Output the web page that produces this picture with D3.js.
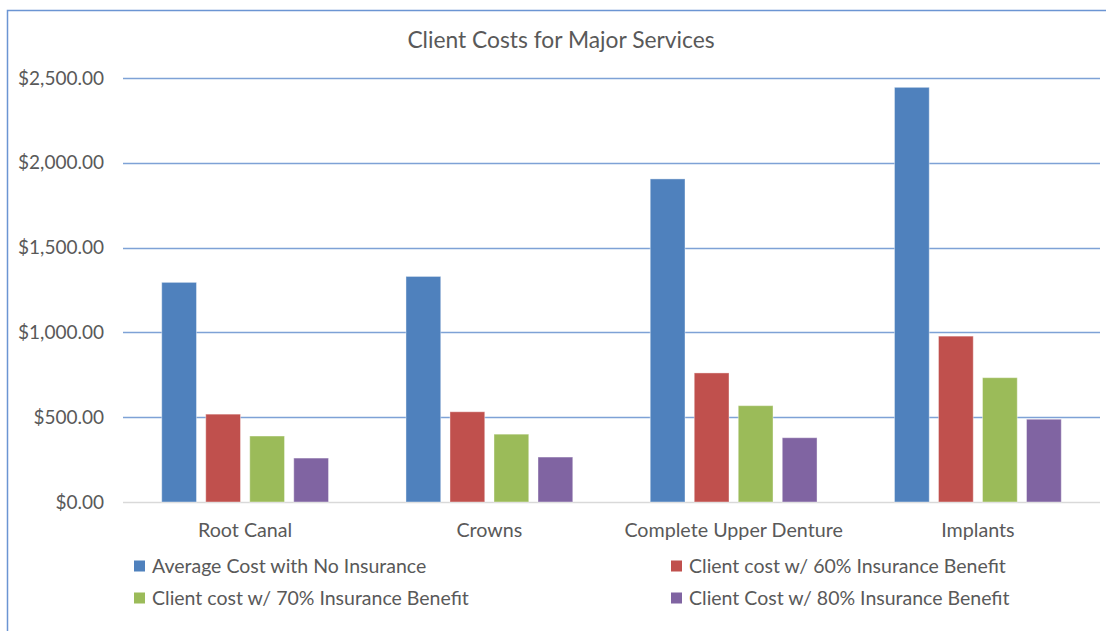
<!DOCTYPE html>
<html>
<head>
<meta charset="utf-8">
<script src="https://cdn.jsdelivr.net/npm/d3@7"></script>
<style>
  body { margin: 0; background: #fff; }
  text { font-family: Lato, "Open Sans", sans-serif; fill: #595959; }
</style>
</head>
<body>
<div id="chart"></div>
<script>
var categories = ["Root Canal", "Crowns", "Complete Upper Denture", "Implants"];
var seriesNames = ["Average Cost with No Insurance", "Client cost w/ 60% Insurance Benefit",
                   "Client cost w/ 70% Insurance Benefit", "Client Cost w/ 80% Insurance Benefit"];
var noInsurance = [1295, 1330, 1905, 2445];
var benefit60 = [518, 532, 761, 978];
var benefit70 = [389, 400, 568, 733];
var benefit80 = [259, 265, 379, 488];
var yTicks = [0, 500, 1000, 1500, 2000, 2500];

var colors = ["#4F81BD", "#C0504D", "#9BBB59", "#8064A2"];
var allSeries = [noInsurance, benefit60, benefit70, benefit80];

var width = 1106,
    height = 631;

var margin = {left: 123, right: 6, top: 78, bottom: 129};

var svg = d3.select("#chart").append("svg")
    .attr("width", width)
    .attr("height", height);

// chart frame (cropped on the right and bottom)
svg.append("path")
    .attr("d", "M7.5," + height + "V10.5H" + width)
    .attr("fill", "none")
    .attr("stroke", "#6b95d3")
    .attr("stroke-width", 1.5);

var x0 = d3.scaleBand()
    .domain(categories)
    .range([margin.left, width - margin.right]);

var x1 = d3.scaleBand()
    .domain(d3.range(seriesNames.length))
    .range([0, x0.bandwidth()])
    .paddingInner(0.21)
    .paddingOuter(0.88);

var y = d3.scaleLinear()
    .domain([0, 2500])
    .range([height - margin.bottom, margin.top]);

// gridlines
svg.append("g")
    .selectAll("line")
    .data(yTicks)
    .enter()
    .append("line")
    .attr("x1", margin.left)
    .attr("x2", width - margin.right)
    .attr("y1", d => Math.round(y(d)) + 0.5)
    .attr("y2", d => Math.round(y(d)) + 0.5)
    .attr("stroke", d => d === 0 ? "#d9d9d9" : "#7ea2d6")
    .attr("stroke-width", 1.5);

// y labels
var fmt = d3.format("$,.2f");
svg.append("g")
    .selectAll("text")
    .data(yTicks)
    .enter()
    .append("text")
    .attr("x", 104)
    .attr("y", d => y(d))
    .attr("dy", "0.35em")
    .attr("text-anchor", "end")
    .style("font-size", "19px")
    .text(d => fmt(d));

// bars
var rows = categories.map((c, i) => ({cat: c, vals: allSeries.map(s => s[i])}));

var groups = svg.append("g")
    .selectAll("g")
    .data(rows)
    .enter()
    .append("g")
    .attr("transform", d => "translate(" + x0(d.cat) + ",0)");

groups.selectAll("rect")
    .data(d => d.vals.map((v, k) => ({k: k, v: v})))
    .enter()
    .append("rect")
    .attr("x", d => x1(d.k))
    .attr("y", d => y(d.v))
    .attr("width", x1.bandwidth())
    .attr("height", d => y(0) - y(d.v))
    .style("fill", d => colors[d.k])
    .style("stroke", "#fff")
    .style("stroke-opacity", 0.4)
    .style("stroke-width", 1);

// category labels
svg.append("g")
    .selectAll("text")
    .data(categories)
    .enter()
    .append("text")
    .attr("x", d => x0(d) + x0.bandwidth() / 2)
    .attr("y", 530)
    .attr("dy", "0.35em")
    .attr("text-anchor", "middle")
    .style("font-size", "19.7px")
    .text(d => d);

// title
svg.append("text")
    .attr("x", 561)
    .attr("y", 40)
    .attr("dy", "0.35em")
    .attr("text-anchor", "middle")
    .style("font-size", "22.8px")
    .text("Client Costs for Major Services");

// legend
var legendX = [134, 671];
var legendY = [566, 598];
var legend = svg.append("g")
    .selectAll("g")
    .data(seriesNames)
    .enter()
    .append("g")
    .attr("transform", (d, i) => "translate(" + legendX[i % 2] + "," + legendY[Math.floor(i / 2)] + ")");

legend.append("rect")
    .attr("x", 0)
    .attr("y", -5.5)
    .attr("width", 11)
    .attr("height", 11)
    .style("fill", (d, i) => colors[i]);

legend.append("text")
    .attr("x", 18)
    .attr("y", 0)
    .attr("dy", "0.35em")
    .style("font-size", "19.5px")
    .text(d => d);
</script>
</body>
</html>
